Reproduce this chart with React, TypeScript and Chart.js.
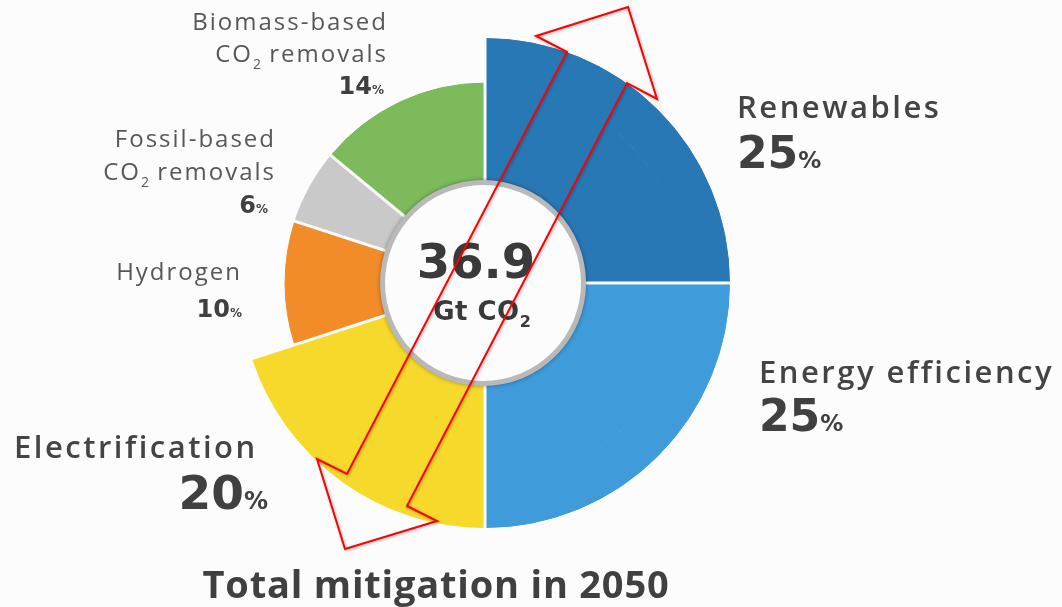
import React, { useEffect, useRef } from "react";
import { Chart, registerables } from "chart.js";

Chart.register(...registerables);

// ---- Data ----
const categories = [
  "Renewables",
  "Energy efficiency",
  "Electrification",
  "Hydrogen",
  "Fossil-based CO₂ removals",
  "Biomass-based CO₂ removals",
];
const shares = [25, 25, 20, 10, 6, 14];
const totalMitigation = "36.9";
const totalUnit = "Gt CO₂";
const chartTitle = "Total mitigation in 2050";

// ---- Styles ----
const sliceColors = ["#2878b6", "#3f9bd9", "#f6d92b", "#f28c28", "#c9c9c9", "#7cba5c"];
const outerRingColors = ["#2878b6", "#3f9bd9", "#f6d92b", "rgba(0,0,0,0)", "rgba(0,0,0,0)", "rgba(0,0,0,0)"];
const FONT = "'Open Sans', 'DejaVu Sans', sans-serif";
const NUMFONT = "'DejaVu Sans', sans-serif";

type Run = { t: string; size: number; weight: number; dy?: number; font?: string; ls?: number };

function splitSub(text: string, size: number, weight: number, ls = 0): Run[] {
  const runs: Run[] = [];
  const parts = text.split("₂");
  parts.forEach((p, i) => {
    if (p) runs.push({ t: p, size, weight, ls });
    if (i < parts.length - 1) runs.push({ t: "2", size: Math.round(size * 0.6), weight, dy: size * 0.28, ls: 0 });
  });
  return runs;
}

function setFont(ctx: any, r: Run) {
  ctx.font = `${r.weight} ${r.size}px ${r.font || FONT}`;
  ctx.letterSpacing = `${r.ls || 0}px`;
}

function drawRuns(ctx: CanvasRenderingContext2D, runs: Run[], x: number, y: number, align: "left" | "right" | "center") {
  let total = 0;
  for (const r of runs) {
    setFont(ctx, r);
    total += ctx.measureText(r.t).width;
  }
  let cx = align === "left" ? x : align === "right" ? x - total : x - total / 2;
  ctx.textAlign = "left";
  ctx.textBaseline = "alphabetic";
  for (const r of runs) {
    setFont(ctx, r);
    ctx.fillText(r.t, cx, y + (r.dy || 0));
    cx += ctx.measureText(r.t).width;
  }
  (ctx as any).letterSpacing = "0px";
}

// label layout (positions / sizes only)
const labelLines = [
  ["Renewables"],
  ["Energy efficiency"],
  ["Electrification"],
  ["Hydrogen"],
  ["Fossil-based", "CO₂ removals"],
  ["Biomass-based", "CO₂ removals"],
];
const labelLayout = [
  { x: 737, align: "left", ys: [118], pctY: 168, nameSize: 31, nameWeight: 600, ls: 2.5, pctSize: 44, pctX: 737 },
  { x: 759, align: "left", ys: [383], pctY: 431, nameSize: 31, nameWeight: 600, ls: 2.5, pctSize: 44, pctX: 759 },
  { x: 14, align: "left", ys: [458], pctY: 509, nameSize: 31, nameWeight: 600, ls: 2.5, pctSize: 47, pctX: 268, pctAlign: "right" },
  { x: 242, align: "right", ys: [280], pctY: 317, nameSize: 24, nameWeight: 400, ls: 2.0, pctSize: 24, pctX: 242 },
  { x: 276, align: "right", ys: [147, 180], pctY: 213, nameSize: 24, nameWeight: 400, ls: 2.0, pctSize: 24, pctX: 268 },
  { x: 388, align: "right", ys: [30, 62], pctY: 94, nameSize: 24, nameWeight: 400, ls: 2.0, pctSize: 24, pctX: 384 },
];

const annotationPlugin = {
  id: "mitigationDecor",
  afterDatasetsDraw(chart: any) {
    const ctx: CanvasRenderingContext2D = chart.ctx;
    const meta = chart.getDatasetMeta(1);
    const outerMeta = chart.getDatasetMeta(0);
    const first = meta.data[0];
    const cx = first.x;
    const cy = first.y;
    const outerR = outerMeta.data[0].outerRadius;
    // white separators between slices
    ctx.save();
    ctx.strokeStyle = "#fcfcfc";
    ctx.lineWidth = 3;
    for (const arc of meta.data) {
      const a = arc.startAngle;
      ctx.beginPath();
      ctx.moveTo(cx, cy);
      ctx.lineTo(cx + Math.cos(a) * (outerR + 2), cy + Math.sin(a) * (outerR + 2));
      ctx.stroke();
    }
    ctx.restore();

    // centre disc
    const innerR = first.innerRadius;
    const dx = cx - 2;
    ctx.save();
    ctx.shadowColor = "rgba(0,0,0,0.35)";
    ctx.shadowBlur = 4;
    ctx.fillStyle = "#b9b9b9";
    ctx.beginPath();
    ctx.arc(dx, cy, innerR + 2, 0, Math.PI * 2);
    ctx.fill();
    ctx.restore();
    ctx.save();
    ctx.fillStyle = "#fcfcfc";
    ctx.beginPath();
    ctx.arc(dx, cy, innerR - 3, 0, Math.PI * 2);
    ctx.fill();
    ctx.fillStyle = "#3a3a3a";
    drawRuns(ctx, [{ t: totalMitigation, size: 48, weight: 700, font: NUMFONT }], dx - 7, cy - 5, "center");
    drawRuns(
      ctx,
      splitSub(totalUnit, 26, 700, 0.5).map((r) => ({ ...r, font: NUMFONT })),
      dx - 1,
      cy + 37,
      "center"
    );
    ctx.restore();

    // category labels
    ctx.save();
    categories.forEach((_, i) => {
      const L: any = labelLayout[i];
      ctx.fillStyle = L.nameWeight > 500 ? "#444444" : "#575757";
      labelLines[i].forEach((line, j) => {
        drawRuns(ctx, splitSub(line, L.nameSize, L.nameWeight, L.ls), L.x, L.ys[j], L.align);
      });
      ctx.fillStyle = "#404040";
      drawRuns(
        ctx,
        [
          { t: String(shares[i]), size: L.pctSize, weight: 700, font: NUMFONT },
          { t: "%", size: Math.round(L.pctSize * 0.52), weight: 700, font: NUMFONT, ls: 0 },
        ],
        L.pctX,
        L.pctY,
        L.pctAlign || L.align
      );
    });
    // title
    ctx.fillStyle = "#404040";
    drawRuns(ctx, [{ t: chartTitle, size: 38, weight: 700, ls: 0.8 }], 436, 598, "center");
    ctx.restore();
  },
  afterDraw(chart: any) {
    // red double-headed outline arrow (overlay annotation)
    const ctx: CanvasRenderingContext2D = chart.ctx;
    const pts = [
      [628, 7], [657, 99], [627, 83], [407, 506], [437, 521], [345, 549],
      [317, 459], [347, 474], [567, 52], [536, 36],
    ];
    ctx.save();
    ctx.shadowColor = "rgba(0,0,0,0.3)";
    ctx.shadowBlur = 3;
    ctx.shadowOffsetX = 1;
    ctx.shadowOffsetY = 1;
    ctx.strokeStyle = "#ff0000";
    ctx.lineWidth = 2;
    ctx.lineJoin = "miter";
    ctx.beginPath();
    pts.forEach(([x, y], i) => (i === 0 ? ctx.moveTo(x, y) : ctx.lineTo(x, y)));
    ctx.closePath();
    ctx.stroke();
    ctx.restore();
  },
};

export default function App() {
  const ref = useRef<HTMLCanvasElement | null>(null);
  useEffect(() => {
    if (!ref.current) return;
    const chart = new Chart(ref.current, {
      type: "doughnut",
      data: {
        labels: categories,
        datasets: [
          {
            data: shares,
            backgroundColor: outerRingColors,
            borderColor: outerRingColors,
            borderWidth: 1,
            weight: 45,
          },
          {
            data: shares,
            backgroundColor: sliceColors,
            borderColor: sliceColors,
            borderWidth: 1,
            weight: 100,
          },
        ],
      },
      options: {
        responsive: false,
        animation: false,
        cutout: 101,
        layout: { padding: { left: 240, right: 332, top: 38, bottom: 79 } },
        plugins: { legend: { display: false }, tooltip: { enabled: false } },
      },
      plugins: [annotationPlugin],
    } as any);
    return () => chart.destroy();
  }, []);
  return (
    <div style={{ position: "fixed", left: 0, top: 0, width: 1062, height: 607, background: "#fcfcfc" }}>
      <canvas ref={ref} width={1062} height={607} style={{ display: "block" }} />
    </div>
  );
}
